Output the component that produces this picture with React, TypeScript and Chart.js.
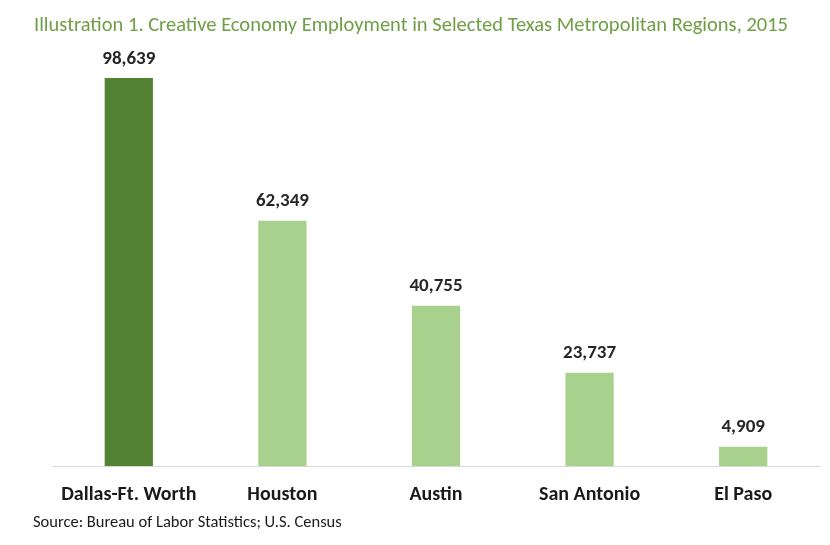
import React, { useEffect, useRef } from "react";
import { Chart, registerables } from "chart.js";

Chart.register(...registerables);

const categories = ["Dallas-Ft. Worth", "Houston", "Austin", "San Antonio", "El Paso"];
const employment = [98639, 62349, 40755, 23737, 4909];
const barColors = ["#548235", "#a9d18e", "#a9d18e", "#a9d18e", "#a9d18e"];
const titleText = "Illustration 1. Creative Economy Employment in Selected Texas Metropolitan Regions, 2015";
const sourceText = "Source: Bureau of Labor Statistics; U.S. Census";

const FONT = "Carlito, Lato, 'Open Sans', sans-serif";

const textPlugin = {
  id: "textPlugin",
  afterDraw(chart: any) {
    const ctx = chart.ctx;
    ctx.save();
    ctx.fillStyle = "#6f9f45";
    ctx.font = `20.5px ${FONT}`;
    ctx.textAlign = "left";
    ctx.textBaseline = "middle";
    ctx.fillText(titleText, 34, 26);

    ctx.fillStyle = "#1a1a1a";
    ctx.font = `16.5px ${FONT}`;
    ctx.fillText(sourceText, 33, 523);

    const meta = chart.getDatasetMeta(0);
    ctx.font = `bold 19px ${FONT}`;
    ctx.fillStyle = "#262626";
    ctx.textAlign = "center";
    meta.data.forEach((bar: any, i: number) => {
      ctx.fillText(employment[i].toLocaleString("en-US"), bar.x, bar.y - 19);
    });
    ctx.restore();
  },
};

export default function App() {
  const ref = useRef<HTMLCanvasElement>(null);
  useEffect(() => {
    const chart = new Chart(ref.current!, {
      type: "bar",
      data: {
        labels: categories,
        datasets: [
          {
            data: employment,
            backgroundColor: barColors,
            barPercentage: 0.314,
            categoryPercentage: 1,
          },
        ],
      },
      options: {
        animation: false,
        responsive: false,
        maintainAspectRatio: false,
        layout: { padding: { left: 52, right: 10, top: 78, bottom: 29 } },
        plugins: { legend: { display: false }, tooltip: { enabled: false }, title: { display: false } },
        scales: {
          x: {
            grid: { display: false },
            border: { display: true, color: "#d9d9d9", width: 1 },
            ticks: { color: "#1a1a1a", font: { family: FONT, size: 20, weight: "bold" }, padding: 9, maxRotation: 0 },
          },
          y: { display: false, min: 0, max: 98639 },
        },
      },
      plugins: [textPlugin],
    });
    return () => chart.destroy();
  }, []);
  return (
    <div style={{ position: "fixed", left: 0, top: 0, width: 830, height: 545, background: "#fff" }}>
      <canvas ref={ref} width={830} height={545} />
    </div>
  );
}
